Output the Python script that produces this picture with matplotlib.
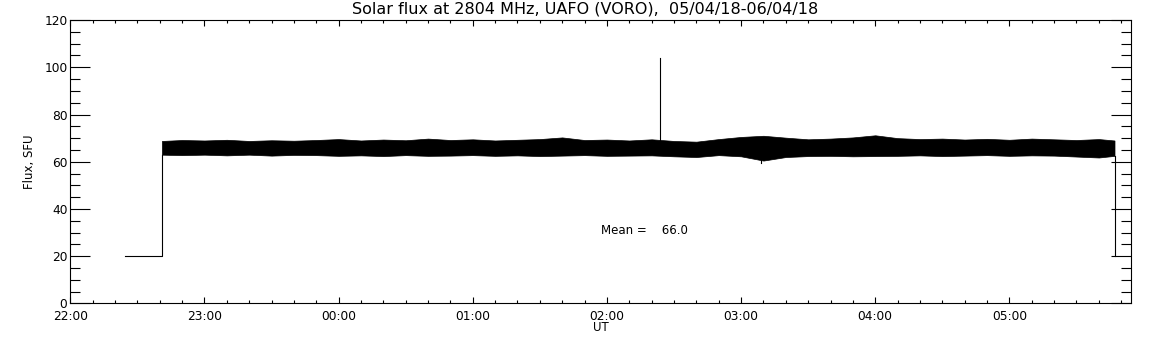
import numpy as np
import matplotlib
matplotlib.use('Agg')
import matplotlib.pyplot as plt
from matplotlib.ticker import MultipleLocator, FixedLocator

# time axis in minutes after 22:00 UT (05/04/18)
hour_labels = ['22:00', '23:00', '00:00', '01:00', '02:00', '03:00', '04:00', '05:00']

# calibration level before / after the observation
cal_t = [24.4, 41.0]
cal_flux = [20.0, 20.0]
end_t = 467.0
end_flux = 20.0

# noise band of the 2804 MHz record, read per 10 min (upper / lower envelope)
band_t = [41, 50, 60, 70, 80, 90, 100, 110, 120, 130, 140, 150, 160, 170,
          180, 190, 200, 210, 220, 230, 240, 250, 260, 270, 280, 290, 300,
          310, 320, 330, 340, 350, 360, 370, 380, 390, 400, 410, 420, 430,
          440, 450, 460, 467]
band_hi = [68.8, 69.2, 69.0, 69.3, 68.8, 69.1, 68.9, 69.2, 69.6, 69.0, 69.4,
           69.1, 69.8, 69.2, 69.5, 69.0, 69.3, 69.6, 70.3, 69.2, 69.4, 69.0,
           69.5, 68.8, 68.5, 69.6, 70.5, 71.0, 70.2, 69.5, 69.8, 70.3, 71.2,
           70.0, 69.6, 69.8, 69.4, 69.7, 69.3, 69.8, 69.5, 69.2, 69.6, 69.0]
band_lo = [63.0, 62.8, 63.0, 62.7, 63.0, 62.6, 62.9, 62.8, 62.5, 62.7, 62.4,
           62.8, 62.5, 62.6, 62.8, 62.5, 62.7, 62.4, 62.6, 62.8, 62.5, 62.6,
           62.7, 62.3, 62.0, 62.8, 62.3, 60.5, 62.0, 62.4, 62.5, 62.3, 62.4,
           62.5, 62.7, 62.4, 62.6, 62.8, 62.5, 62.7, 62.6, 62.2, 61.8, 62.5]

# single burst and single dip
burst_t, burst_base, burst_peak = 263.7, 67.0, 103.8
dip_t, dip_base, dip_low = 309.0, 63.0, 59.6

mean_flux = 66.0

fig = plt.figure(figsize=(11.52, 3.45), dpi=100)
ax = fig.add_axes([0.061, 0.1203, 0.9212, 0.8217])

lw = 0.8
ax.fill_between(band_t, band_lo, band_hi, color='k', linewidth=0.5)
ax.plot(cal_t + [cal_t[-1]], cal_flux + [band_lo[0]], color='k', lw=lw)
ax.plot([end_t, end_t], [band_lo[-1], end_flux], color='k', lw=lw)
ax.plot([burst_t, burst_t], [burst_base, burst_peak], color='k', lw=lw)
ax.plot([dip_t, dip_t], [dip_base, dip_low], color='k', lw=lw)

ax.set_xlim(0, 474.6)
ax.set_ylim(0, 120)

ax.xaxis.set_major_locator(FixedLocator(np.arange(len(hour_labels)) * 60))
ax.set_xticklabels(hour_labels)
ax.xaxis.set_minor_locator(MultipleLocator(10))
ax.yaxis.set_major_locator(MultipleLocator(20))
ax.yaxis.set_minor_locator(MultipleLocator(5))

ax.tick_params(axis='x', which='major', direction='in', length=4, width=0.8,
               top=True, bottom=True, labelsize=8.8, pad=4.5)
ax.tick_params(axis='x', which='minor', direction='in', length=2.2, width=0.8,
               top=True, bottom=True)
ax.tick_params(axis='y', which='major', direction='in', length=14.4, width=0.8,
               left=True, right=True, labelsize=8.8, pad=2)
ax.tick_params(axis='y', which='minor', direction='in', length=7.2, width=0.8,
               left=True, right=True)
for s in ax.spines.values():
    s.set_linewidth(0.8)

ax.set_ylabel('Flux, SFU', fontsize=8.5, labelpad=6)
ax.set_xlabel('UT', fontsize=8.5, labelpad=-1)
fig.text(585 / 1152, 1 - 9 / 345, 'Solar flux at 2804 MHz, UAFO (VORO),  05/04/18-06/04/18',
         ha='center', va='center', fontsize=11.5)
ax.text(237.4, 31.1, 'Mean =    %.1f' % mean_flux, fontsize=8.5, ha='left', va='center')

fig.savefig('out.png', dpi=100)
